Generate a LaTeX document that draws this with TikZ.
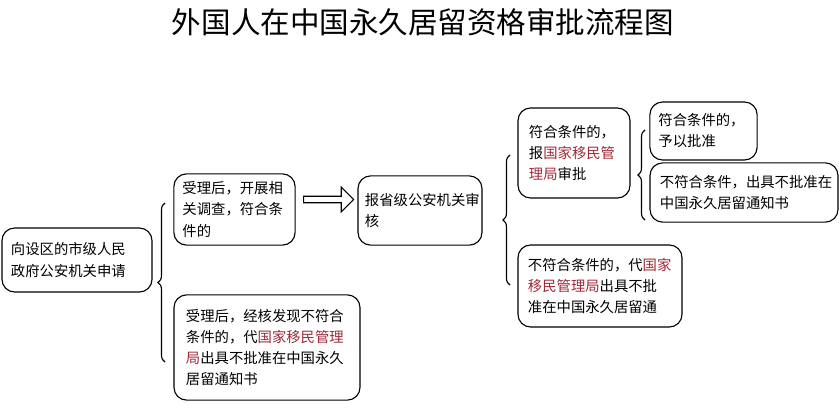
\documentclass[tikz,border=0pt]{standalone}
\usepackage{fontspec}
\setmainfont{Noto Sans CJK SC}
\usetikzlibrary{shapes.arrows,decorations.pathreplacing}
\definecolor{imred}{rgb}{0.62, 0.16, 0.22}
\newcommand{\imhl}[1]{\textcolor{imred}{#1}}
\tikzset{
    stepbox/.style={draw, thick, rounded corners=9pt, align=left, font=\fontsize{10.2pt}{15pt}\selectfont, inner sep=0pt, outer sep=0pt},
    bracepath/.style={draw, thick, decorate, decoration={brace, amplitude=5pt}}
}
\begin{document}
\begin{tikzpicture}[x=0.025cm, y=-0.025cm]
            \useasboundingbox (0,0) rectangle (840,420);
            \node[font=\fontsize{21pt}{24pt}\selectfont] (title) at (423,22) {外国人在中国永久居留资格审批流程图};

            \node[stepbox, minimum width=3.75cm, minimum height=1.6cm, text width=3.3cm] (apply) at (77,260) {向设区的市级人民\\政府公安机关申请};
            \node[stepbox, minimum width=3.03cm, minimum height=1.78cm, text width=2.6cm] (accept) at (234.5,209.5) {受理后，开展相\\关调查，符合条\\件的};
            \node[stepbox, minimum width=4.65cm, minimum height=2.63cm, text width=4.05cm] (refuse) at (267,347.5) {受理后，经核发现不符合\\条件的，代\imhl{国家移民管理}\\\imhl{局}出具不批准在中国永久\\居留通知书};
            \node[stepbox, minimum width=3.1cm, minimum height=1.73cm, text width=2.75cm] (province) at (420,210.5) {报省级公安机关审\\核};
            \node[stepbox, minimum width=2.8cm, minimum height=2.25cm, text width=2.25cm] (report) at (574,153) {符合条件的，\\报\imhl{国家移民管}\\\imhl{理局}审批};
            \node[stepbox, minimum width=2.68cm, minimum height=1.45cm, text width=2.25cm] (approve) at (703.5,131) {符合条件的，\\予以批准};
            \node[stepbox, minimum width=4.7cm, minimum height=1.48cm, text width=4.2cm] (deny) at (744,192.5) {不符合条件，出具不批准在\\中国永久居留通知书};
            \node[stepbox, minimum width=4.1cm, minimum height=2.05cm, text width=3.6cm] (reject) at (600,286) {不符合条件的，代\imhl{国家}\\\imhl{移民管理局}出具不批\\准在中国永久居留通};

            \node[draw, thick, single arrow, single arrow head extend=4pt, minimum height=1.25cm, minimum width=0.62cm, inner sep=1pt] (next) at (327,199.5) {};

            \coordinate (b1s) at (165,362);
            \coordinate (b1e) at (165,203);
            \coordinate (b2s) at (510,285);
            \coordinate (b2e) at (510,155);
            \coordinate (b3s) at (645,220);
            \coordinate (b3e) at (645,130);
            \path[bracepath] (b1s) -- (b1e);
            \path[bracepath] (b2s) -- (b2e);
            \path[bracepath] (b3s) -- (b3e);
            \end{tikzpicture}
\end{document}
